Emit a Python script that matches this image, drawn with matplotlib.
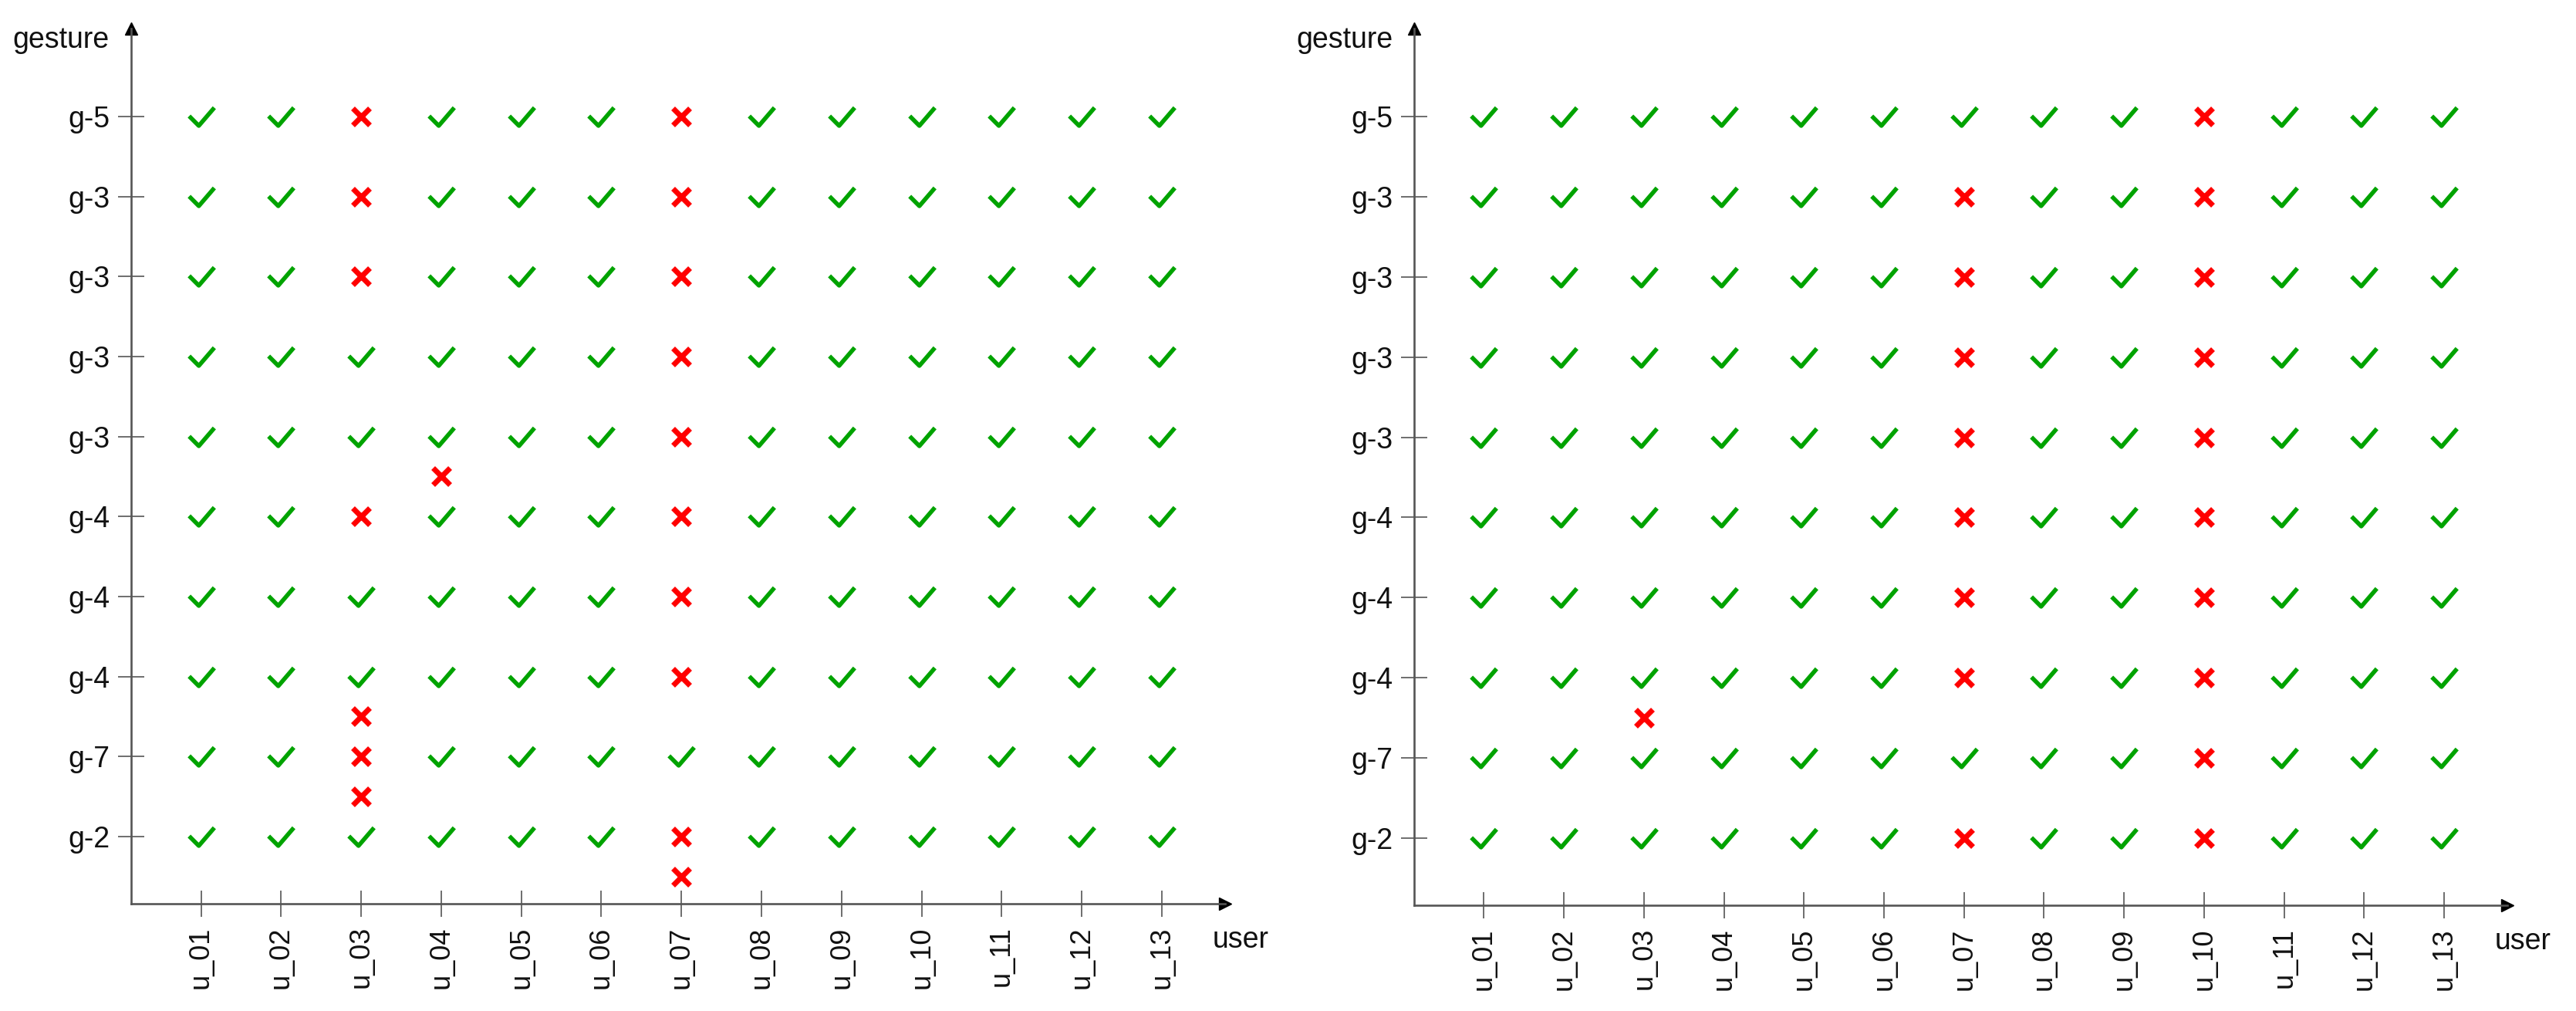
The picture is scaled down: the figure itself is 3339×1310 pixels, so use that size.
import matplotlib.pyplot as plt
from matplotlib.markers import MarkerStyle
from matplotlib.path import Path

plt.rcParams["font.family"] = ["Liberation Sans", "DejaVu Sans"]

USERS = [f"u_{i:02d}" for i in range(1, 14)]
GESTURES = ["g-5", "g-3", "g-3", "g-3", "g-3", "g-4", "g-4", "g-4", "g-7", "g-2"]

# one string per gesture row (top to bottom), one char per user: v = pass, x = fail
LEFT_GRID = [
    "vvxvvvxvvvvvv",
    "vvxvvvxvvvvvv",
    "vvxvvvxvvvvvv",
    "vvvvvvxvvvvvv",
    "vvvvvvxvvvvvv",
    "vvxvvvxvvvvvv",
    "vvvvvvxvvvvvv",
    "vvvvvvxvvvvvv",
    "vvxvvvvvvvvvv",
    "vvvvvvxvvvvvv",
]
# extra failures sitting between gesture rows (row index 0 = g-2 at bottom)
LEFT_EXTRA_USERS = ["u_04", "u_03", "u_03", "u_07"]
LEFT_EXTRA_Y = [4.5, 1.5, 0.5, -0.5]

RIGHT_GRID = [
    "vvvvvvvvvxvvv",
    "vvvvvvxvvxvvv",
    "vvvvvvxvvxvvv",
    "vvvvvvxvvxvvv",
    "vvvvvvxvvxvvv",
    "vvvvvvxvvxvvv",
    "vvvvvvxvvxvvv",
    "vvvvvvxvvxvvv",
    "vvvvvvvvvxvvv",
    "vvvvvvxvvxvvv",
]
RIGHT_EXTRA_USERS = ["u_03"]
RIGHT_EXTRA_Y = [1.5]

GREEN = "#00a300"
RED = "#ff0000"
AXIS = "#555555"
FONT = 27

W, H = 3339, 1310
check_path = Path([(-15, 1), (-3.5, -10.5), (15, 11)],
                  [Path.MOVETO, Path.LINETO, Path.LINETO])
CHECK = MarkerStyle(check_path, capstyle="butt", joinstyle="miter")


def draw_panel(ax, grid, extra_users, extra_y):
    n = len(grid)
    cx, cy, fx, fy = [], [], [], []
    for r, row in enumerate(grid):
        y = n - 1 - r
        for c, ch in enumerate(row):
            if ch == "v":
                cx.append(c + 1)
                cy.append(y)
            else:
                fx.append(c + 1)
                fy.append(y)
    for u, y in zip(extra_users, extra_y):
        fx.append(USERS.index(u) + 1)
        fy.append(y)

    ax.plot(cx, cy, linestyle="none", marker=CHECK, markersize=23.5,
            markerfacecolor="none", markeredgecolor=GREEN, markeredgewidth=4.0)
    ax.plot(fx, fy, linestyle="none", marker="x", markersize=16.5,
            markeredgecolor=RED, markeredgewidth=5.0)

    ax.set_xlim(0.128, 13.79)
    ax.set_ylim(-0.84, 10.10)
    ax.set_xticks(range(1, len(USERS) + 1))
    ax.set_xticklabels(USERS, rotation=90)
    ax.set_yticks(range(n))
    ax.set_yticklabels(GESTURES[::-1])
    for side in ("top", "right"):
        ax.spines[side].set_visible(False)
    for side in ("left", "bottom"):
        ax.spines[side].set_color(AXIS)
        ax.spines[side].set_linewidth(1.9)
    ax.tick_params(axis="both", direction="inout", length=24, width=1.2,
                   color=AXIS, labelcolor="#111111")
    ax.tick_params(axis="y", pad=8, labelsize=FONT)
    ax.tick_params(axis="x", pad=9, labelsize=26)

    ax.plot(1, 0, ">", color="black", markersize=11, transform=ax.transAxes, clip_on=False)
    ax.plot(0, 1, "^", color="black", markersize=11, transform=ax.transAxes, clip_on=False)
    ax.annotate("gesture", xy=(0, 1), xycoords="axes fraction", xytext=(-28, -25),
                textcoords="offset pixels", ha="right", va="baseline",
                fontsize=FONT, color="#111111")
    ax.annotate("user", xy=(1, 0), xycoords="axes fraction", xytext=(-16, -57),
                textcoords="offset pixels", ha="left", va="baseline",
                fontsize=FONT, color="#111111")


fig = plt.figure(figsize=(W / 100, H / 100), dpi=100)
ax_left = fig.add_axes([170 / W, (H - 1171) / H, (1588 - 170) / W, (1171 - 37) / H])
ax_right = fig.add_axes([1833 / W, (H - 1173) / H, (3250 - 1833) / W, (1173 - 37) / H])

draw_panel(ax_left, LEFT_GRID, LEFT_EXTRA_USERS, LEFT_EXTRA_Y)
draw_panel(ax_right, RIGHT_GRID, RIGHT_EXTRA_USERS, RIGHT_EXTRA_Y)

fig.savefig("out.png", dpi=100)
